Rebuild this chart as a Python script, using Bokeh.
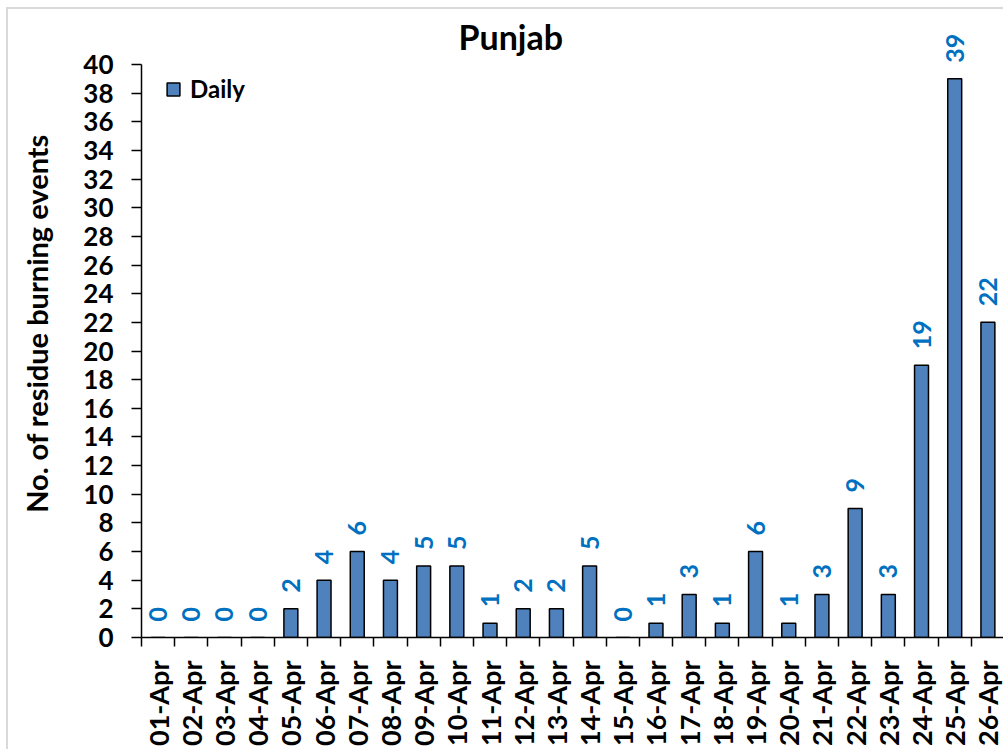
import math
from bokeh.plotting import figure
from bokeh.models import (Range1d, FixedTicker, LabelSet, Legend, LegendItem,
                          ColumnDataSource)
from bokeh.core.properties import value
from bokeh.embed import file_html
from bokeh.resources import INLINE

# ---- data ----
dates = ["01-Apr", "02-Apr", "03-Apr", "04-Apr", "05-Apr", "06-Apr", "07-Apr",
         "08-Apr", "09-Apr", "10-Apr", "11-Apr", "12-Apr", "13-Apr", "14-Apr",
         "15-Apr", "16-Apr", "17-Apr", "18-Apr", "19-Apr", "20-Apr", "21-Apr",
         "22-Apr", "23-Apr", "24-Apr", "25-Apr", "26-Apr"]
daily = [0, 0, 0, 0, 2, 4, 6, 4, 5, 5, 1, 2, 2, 5, 0, 1, 3, 1, 6, 1, 3, 9, 3,
         19, 39, 22]
y_ticks = list(range(0, 41, 2))

FONT = "Lato"
n = len(dates)
centers = [i + 0.5 for i in range(n)]
bounds = [i for i in range(n + 1)]

src = ColumnDataSource(dict(x=centers, top=daily, lab=[str(v) for v in daily]))

p = figure(width=997, height=742, output_backend="svg", toolbar_location=None,
           x_range=Range1d(0, n), y_range=Range1d(0, 43.84),
           min_border_left=133, min_border_right=1, min_border_top=0,
           min_border_bottom=114)
p.styles = {"margin-left": "6px", "margin-top": "7px",
            "border-left": "2px solid #D9D9D9",
            "border-top": "2px solid #D9D9D9"}
p.title.text = "Punjab"
p.title.text_font = FONT
p.title.text_font_size = "34px"
p.title.text_font_style = "bold"
p.title.text_color = "black"
p.title.align = "left"
p.title.offset = 317
p.title.standoff = -95
p.outline_line_color = None
p.xgrid.visible = False
p.ygrid.visible = False
p.background_fill_color = "white"
p.border_fill_color = "white"

r = p.vbar(x="x", top="top", width=0.42, bottom=0, source=src,
           fill_color="#4F81BD", line_color="black", line_width=1.5)

labels = LabelSet(x="x", y="top", text="lab", source=src, angle=math.pi / 2,
                  text_align="left", text_baseline="middle", y_offset=16,
                  text_color="#0070C0", text_font=value(FONT),
                  text_font_style="bold", text_font_size="25px")
p.add_layout(labels)

# axes
ya = p.yaxis[0]
ya.ticker = FixedTicker(ticks=y_ticks)
ya.bounds = (0, 40)
ya.axis_label = "No. of residue burning events"
ya.axis_label_text_font = FONT
ya.axis_label_text_font_style = "bold"
ya.axis_label_text_font_size = "29px"
ya.axis_label_text_color = "black"
ya.axis_label_standoff = 26
ya.major_label_text_font = FONT
ya.major_label_text_font_style = "bold"
ya.major_label_text_font_size = "26px"
ya.major_label_text_color = "black"
ya.major_tick_out = 10
ya.major_tick_in = 0
ya.minor_tick_line_color = None
ya.axis_line_width = 1.5
ya.major_tick_line_width = 1.5
ya.major_label_standoff = 18

xa = p.xaxis[0]
xa.ticker = FixedTicker(ticks=centers, minor_ticks=bounds)
xa.major_label_overrides = {c: d for c, d in zip(centers, dates)}
xa.major_label_orientation = math.pi / 2
xa.major_label_text_font = FONT
xa.major_label_text_font_style = "bold"
xa.major_label_text_font_size = "27px"
xa.major_label_text_color = "black"
xa.major_tick_out = 0
xa.major_tick_in = 0
xa.major_tick_line_color = None
xa.minor_tick_out = 9
xa.minor_tick_in = 0
xa.minor_tick_line_color = "black"
xa.minor_tick_line_width = 1.5
xa.axis_line_width = 1.5
xa.major_label_standoff = 14

legend = Legend(items=[LegendItem(label="Daily", renderers=[r])],
                location=(24, 534), margin=0, padding=0,
                border_line_color=None, background_fill_alpha=0,
                glyph_width=16, glyph_height=16, label_standoff=9,
                label_text_font=FONT, label_text_font_style="bold",
                label_text_font_size="24px", label_text_color="black")
p.add_layout(legend)

open("out.html", "w").write(file_html(p, INLINE))
